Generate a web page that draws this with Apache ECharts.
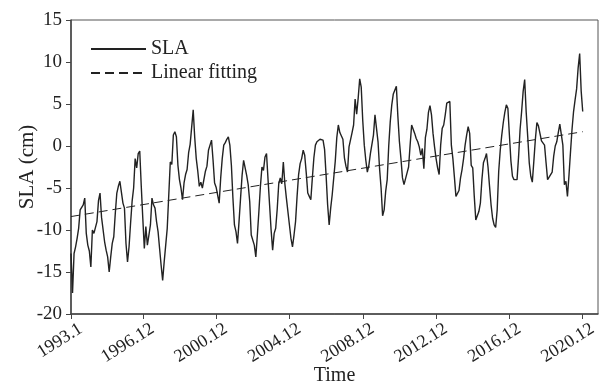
<!DOCTYPE html>
<html lang="en">
<head>
    <meta charset="UTF-8">
    <title>SLA</title>
    <script src="https://cdn.jsdelivr.net/npm/echarts@6/dist/echarts.min.js"></script>
</head>
<body style="margin:0;">
<div id="main" style="width: 601px;height:386px;"></div>
<script type="text/javascript">
    // labelled ticks on the time axis
    var tickLabels = ["1993.1", "1996.12", "2000.12", "2004.12", "2008.12", "2012.12", "2016.12", "2020.12"];

    // monthly SLA (cm), one row per year 1993 - 2020
    var sla = [
        -12.8, -17.5, -12.8, -12.0, -11.0, -9.8, -7.6, -7.8, -7.0, -6.2, -10.4, -11.8,
        -12.5, -14.4, -10.0, -10.4, -10.2, -9.0, -6.5, -5.6, -8.5, -8.6, -11.4, -12.4,
        -13.2, -15.0, -13.2, -11.6, -10.8, -8.0, -5.6, -4.8, -4.2, -4.0, -6.8, -7.4,
        -11.6, -13.8, -12.0, -9.2, -6.6, -5.0, -1.5, -2.6, -0.9, -0.6, -4.8, -8.6,
        -12.2, -9.6, -11.8, -10.6, -9.4, -6.2, -7.0, -7.4, -9.0, -10.2, -12.2, -14.2,
        -16.0, -13.8, -11.8, -9.8, -9.8, -1.9, -2.2, 1.3, 1.7, 1.1, -2.3, -4.0,
        -5.0, -6.4, -4.4, -3.4, -2.8, -0.8, 0.2, 0.3, 4.3, 1.0, -1.5, -3.0,
        -4.8, -4.3, -5.0, -4.8, -3.0, -2.4, -0.5, 0.1, 0.7, -1.7, -4.4, -4.9,
        -5.0, -6.8, -3.8, -1.5, 0.1, 0.4, 0.8, 1.1, 0.1, -2.3, -6.2, -9.4,
        -10.2, -11.6, -9.0, -6.2, -3.5, -1.7, -1.9, -3.5, -4.6, -6.6, -10.6, -10.8,
        -11.8, -13.2, -10.6, -7.8, -4.8, -2.5, -2.9, -1.3, -0.9, -4.0, -7.0, -10.0,
        -12.4, -10.4, -9.8, -7.5, -4.5, -3.8, -4.5, -1.9, -4.5, -6.2, -6.4, -9.4,
        -11.0, -12.0, -10.6, -9.0, -6.0, -3.4, -2.1, -1.5, -0.5, -1.1, -3.2, -5.6,
        -6.0, -6.4, -3.8, -1.4, 0.1, 0.5, 0.7, 0.8, 0.6, 0.7, -0.4, -3.5,
        -7.0, -9.4, -7.4, -5.8, -5.6, -1.8, 1.0, 2.5, 1.6, 1.8, 0.8, -1.4,
        -2.4, -3.1, -0.1, 0.0, 1.6, 2.5, 5.6, 3.8, 5.7, 8.0, 7.0, 3.0,
        0.1, -1.7, -3.1, -2.3, -0.9, -0.7, 1.3, 3.7, 3.5, 0.5, -2.7, -5.0,
        -8.3, -7.6, -5.4, -4.0, 0.0, 2.9, 4.9, 6.2, 6.3, 7.1, 3.5, 0.5,
        -1.5, -3.8, -4.6, -4.8, -3.2, -2.5, 0.1, 2.5, 2.4, 1.5, 0.9, 0.5,
        -0.1, -1.1, -0.3, -2.7, 1.0, 2.0, 4.0, 4.8, 3.7, 1.5, -0.1, -1.5,
        -2.6, -3.4, 0.1, 2.1, 2.5, 3.7, 5.1, 5.2, 5.3, 0.1, -1.5, -3.7,
        -6.0, -5.8, -5.3, -3.8, -2.8, -1.5, 0.1, 1.3, 2.3, 1.5, -2.3, -2.6,
        -6.0, -8.8, -8.3, -7.8, -6.8, -4.0, -2.0, -1.5, -0.9, -2.5, -4.8, -7.0,
        -8.6, -9.4, -9.7, -7.6, -3.0, -0.5, 1.3, 2.8, 4.0, 4.9, 4.5, 1.3,
        -1.8, -3.6, -4.0, -4.0, -4.0, -1.3, 2.0, 4.1, 6.5, 7.9, 4.0, 1.1,
        -2.0, -3.6, -4.3, -1.8, 0.8, 2.8, 2.4, 1.5, 0.6, 0.5, 0.1, -2.0,
        -4.0, -3.7, -3.6, -3.1, -1.2, 0.0, 0.5, 1.6, 2.6, 2.5, 0.1, -4.6,
        -4.2, -6.0, -3.5, -0.7, 2.0, 4.1, 5.5, 6.8, 9.3, 11.0, 6.5, 4.1
    ];

    // linear fitting: values at first and last month
    var fitStart = -8.4;
    var fitEnd = 1.7;

    // month categories, the axis runs a few months past 2020.12
    var months = [];
    for (var y = 1993; months.length < 346; y++) {
        for (var m = 1; m <= 12 && months.length < 346; m++) {
            months.push(y + "." + m);
        }
    }

    var font = "Liberation Serif";
    var ink = "#222";
    var showTick = function (index, value) {
        return tickLabels.indexOf(value) >= 0;
    };

    var myChart = echarts.init(document.getElementById("main"));

    var option = {
        animation: false,
        textStyle: {fontFamily: font, color: ink},
        grid: {
            left: 71, right: 3, top: 20, bottom: 72,
            outerBoundsMode: "none",
            show: true,
            borderColor: "#555",
            borderWidth: 1
        },
        legend: {
            orient: "vertical",
            left: 85,
            top: 34,
            itemWidth: 55,
            itemHeight: 14,
            itemGap: 4,
            itemStyle: {opacity: 0},
            textStyle: {fontFamily: font, fontSize: 20, color: ink},
            data: ["SLA", "Linear fitting"]
        },
        xAxis: {
            type: "category",
            data: months,
            boundaryGap: false,
            name: "Time",
            nameLocation: "middle",
            nameGap: 52,
            nameMoveOverlap: false,
            nameTextStyle: {fontFamily: font, fontSize: 20, color: ink},
            axisLine: {onZero: false, lineStyle: {color: "#444", width: 1.5}},
            axisTick: {interval: showTick, length: 5, lineStyle: {color: "#444"}},
            axisLabel: {
                interval: showTick,
                rotate: 32,
                margin: 9,
                verticalAlign: "top",
                padding: [0, -6, 0, 0],
                fontFamily: font,
                fontSize: 18,
                color: ink
            },
            splitLine: {show: false}
        },
        yAxis: {
            type: "value",
            min: -20,
            max: 15,
            interval: 5,
            name: "SLA (cm)",
            nameLocation: "middle",
            nameGap: 33,
            nameMoveOverlap: false,
            nameTextStyle: {fontFamily: font, fontSize: 21, color: ink},
            axisLine: {show: true, lineStyle: {color: "#444", width: 1.5}},
            axisTick: {show: true, length: 5, lineStyle: {color: "#444"}},
            axisLabel: {margin: 9, fontFamily: font, fontSize: 19, color: ink},
            splitLine: {show: false}
        },
        series: [
            {
                name: "SLA",
                type: "line",
                symbol: "none",
                data: sla,
                lineStyle: {color: ink, width: 1.4}
            },
            {
                name: "Linear fitting",
                type: "line",
                symbol: "none",
                data: [[0, fitStart], [sla.length - 1, fitEnd]],
                lineStyle: {color: ink, width: 1, type: [9, 5]}
            }
        ]
    };

    myChart.setOption(option);
</script>
</body>
</html>
